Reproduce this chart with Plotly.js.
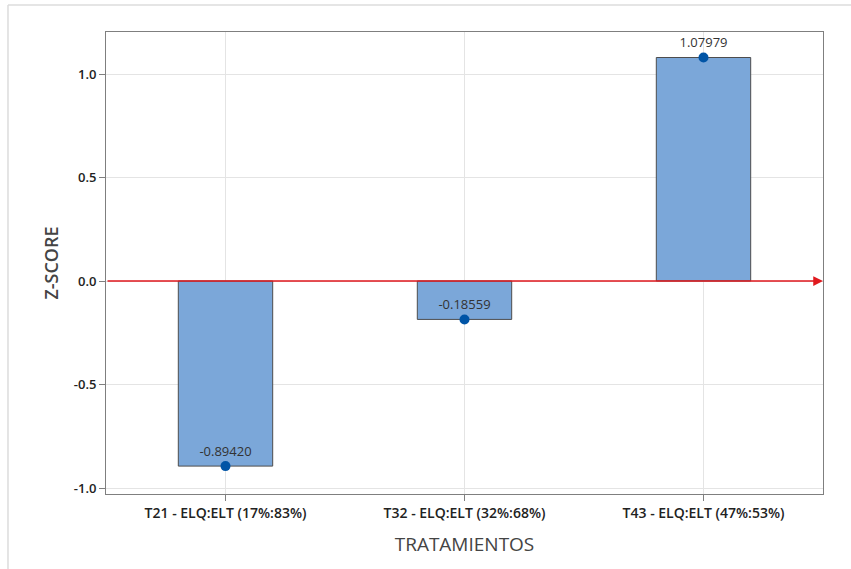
<!DOCTYPE html>
<html>
<head>
<meta charset="utf-8">
<script src="https://cdn.plot.ly/plotly-3.0.1.min.js"></script>
<style>html,body{margin:0;padding:0;background:#fff;}#chart{width:851px;height:569px;}</style>
</head>
<body>
<div id="chart"></div>
<script>
var categories = ["T21 - ELQ:ELT (17%:83%)", "T32 - ELQ:ELT (32%:68%)", "T43 - ELQ:ELT (47%:53%)"];
var zscores = [-0.89420, -0.18559, 1.07979];
var labels = ["-0.89420", "-0.18559", "1.07979"];
var yTickVals = [-1.0, -0.5, 0.0, 0.5, 1.0];
var yTickText = ["-1.0", "-0.5", "0.0", "0.5", "1.0"];

var bars = {
  type: "bar",
  x: categories,
  y: zscores,
  width: 0.395,
  marker: {color: "#7BA7D9", line: {color: "#4d4d4d", width: 1}},
  hoverinfo: "skip",
  showlegend: false
};
var pts = {
  type: "scatter",
  mode: "markers+text",
  x: categories,
  y: zscores,
  text: labels,
  textposition: "top center",
  textfont: {family: "Open Sans, sans-serif", size: 13, color: "#333"},
  marker: {color: "#0054A6", size: 10},
  cliponaxis: false,
  showlegend: false
};

var layout = {
  width: 851, height: 569,
  margin: {l: 106, r: 28, t: 32, b: 75},
  paper_bgcolor: "#fff", plot_bgcolor: "#fff",
  font: {family: "Open Sans, sans-serif", color: "#333"},
  xaxis: {
    type: "category",
    range: [-0.5, 2.5],
    showgrid: true, gridcolor: "#e4e4e4",
    ticks: "outside", ticklen: 6, tickcolor: "#7f7f7f",
    showline: true, linecolor: "#7f7f7f", mirror: true,
    tickfont: {size: 14, color: "#222", weight: 600},
    title: {text: "TRATAMIENTOS", font: {size: 19, color: "#444"}, standoff: 16},
    zeroline: false
  },
  yaxis: {
    range: [-1.029, 1.203],
    tickvals: yTickVals, ticktext: yTickText,
    showgrid: true, gridcolor: "#e4e4e4",
    ticks: "outside", ticklen: 6, tickcolor: "#7f7f7f",
    showline: true, linecolor: "#7f7f7f", mirror: true,
    tickfont: {size: 13, color: "#222", weight: 600},
    title: {text: "Z-SCORE", font: {size: 18, color: "#444", weight: 600}, standoff: 10},
    zeroline: false
  },
  shapes: [
    {type: "line", xref: "paper", yref: "paper", x0: -0.1367, x1: 1.05, y0: 1.0584, y1: 1.0584, line: {color: "#dcdcdc", width: 1.5}},
    {type: "line", xref: "paper", yref: "paper", x0: -0.1367, x1: -0.1367, y0: 1.0584, y1: -0.2, line: {color: "#dcdcdc", width: 1.5}}
  ],
  annotations: [
    {x: 2.5, y: 0, ax: -0.5, ay: 0, xref: "x", yref: "y", axref: "x", ayref: "y",
     showarrow: true, arrowhead: 2, arrowsize: 1.3, arrowwidth: 1.5, arrowcolor: "#E0191E", text: ""}
  ]
};

Plotly.newPlot("chart", [bars, pts], layout, {displayModeBar: false, staticPlot: true});
</script>
</body>
</html>
